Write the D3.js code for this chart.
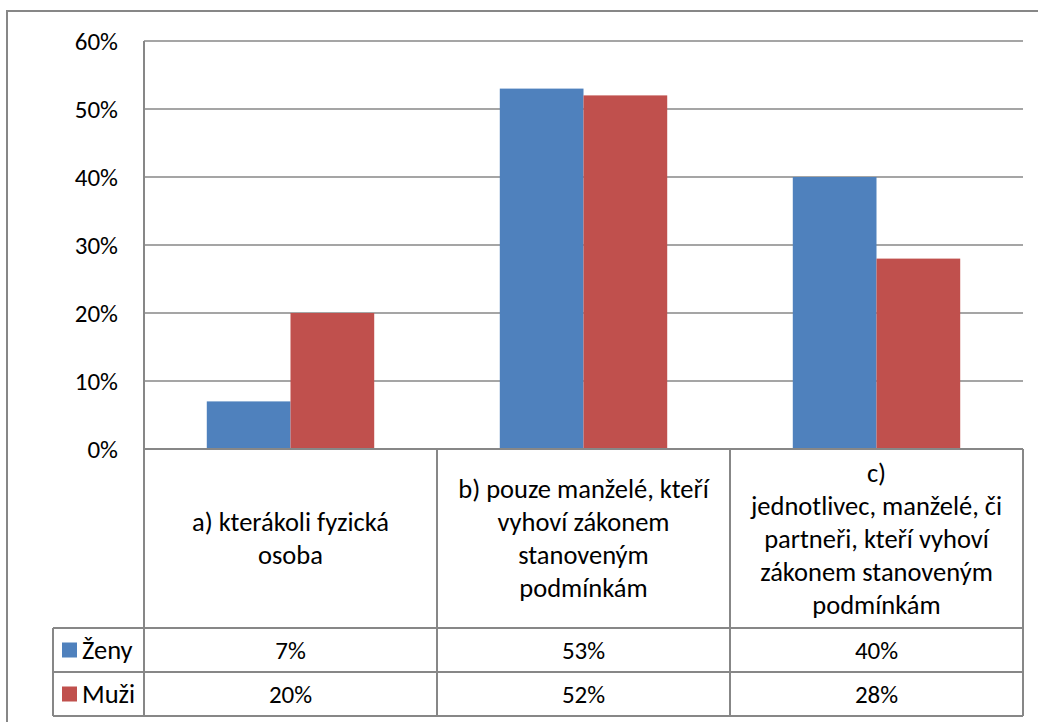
<!DOCTYPE html>
<html>
<head>
<meta charset="utf-8">
<script src="https://d3js.org/d3.v7.min.js"></script>
<style>
  body { margin: 0; background: #fff; }
  svg text { font-family: Carlito, Calibri, Lato, sans-serif; fill: #000; }
</style>
</head>
<body>
<svg class="chart"></svg>
<script>
// data
var categories = ["a", "b", "c"];
var categoryLines = [
  ["a) kterákoli fyzická", "osoba"],
  ["b) pouze manželé, kteří", "vyhoví zákonem", "stanoveným", "podmínkám"],
  ["c)", "jednotlivec, manželé, či", "partneři, kteří vyhoví", "zákonem stanoveným", "podmínkám"]
];
var seriesNames = ["Ženy", "Muži"];
var zeny = [0.07, 0.53, 0.40];
var muzi = [0.20, 0.52, 0.28];
var yTicks = [0, 0.1, 0.2, 0.3, 0.4, 0.5, 0.6];

var seriesValues = [zeny, muzi];
var colors = ["#4F81BD", "#C0504D"];
var gray = "#878787";

var W = 1038, H = 722;
var numSize = 25;    // numbers (ticks, table values)
var textSize = 26.5; // words (category labels, legend)

var svg = d3.select(".chart").attr("width", W).attr("height", H);

// outer chart border
svg.append("rect")
  .attr("x", 7).attr("y", 11)
  .attr("width", W + 10).attr("height", H + 10)
  .attr("fill", "none").attr("stroke", gray).attr("stroke-width", 2);

var plot = { left: 144, right: 1023, top: 41, bottom: 449 };
var tableRows = { labelBottom: 628, row1: 672, row2: 716, legendLeft: 53 };

var x = d3.scaleBand().domain(categories).range([plot.left, plot.right]);
// Excel gap width 150%: two bars take 2/3.5 of category
var inner = d3.scaleBand().domain(seriesNames)
  .range([0, x.bandwidth() * 2 / 3.5]);
var groupOffset = (x.bandwidth() - inner.range()[1]) / 2;

var y = d3.scaleLinear().domain([0, 0.6]).range([plot.bottom, plot.top]);

// gridlines
svg.append("g").selectAll("line")
  .data(yTicks.slice(1))
  .enter().append("line")
  .attr("x1", plot.left).attr("x2", plot.right)
  .attr("y1", function(d) { return y(d); })
  .attr("y2", function(d) { return y(d); })
  .attr("stroke", gray).attr("stroke-width", 1.5);

// y axis labels
var yAxis = d3.axisLeft(y).tickValues(yTicks)
  .tickFormat(d3.format(".0%")).tickSize(0).tickPadding(26);
var yg = svg.append("g")
  .attr("transform", "translate(" + plot.left + ",0)")
  .call(yAxis);
yg.select(".domain").remove();
yg.selectAll("text")
  .style("font-family", "Carlito, Calibri, Lato, sans-serif")
  .attr("font-size", numSize).attr("fill", "#000");

// bars
seriesNames.forEach(function(s, si) {
  svg.append("g").selectAll("rect")
    .data(seriesValues[si])
    .enter().append("rect")
    .attr("x", function(d, i) { return x(categories[i]) + groupOffset + inner(s); })
    .attr("y", function(d) { return y(d); })
    .attr("width", inner.bandwidth())
    .attr("height", function(d) { return y(0) - y(d); })
    .attr("fill", colors[si]);
});

// table lines
var tl = svg.append("g").attr("stroke", gray).attr("stroke-width", 2).attr("fill", "none");
function line(x1, y1, x2, y2) {
  tl.append("line").attr("x1", x1).attr("y1", y1).attr("x2", x2).attr("y2", y2);
}
line(plot.left, plot.top, plot.left, tableRows.row2);           // axis + first column
line(plot.left, plot.bottom, plot.right, plot.bottom);          // zero line
line(tableRows.legendLeft, tableRows.labelBottom, plot.right, tableRows.labelBottom);
line(tableRows.legendLeft, tableRows.row1, plot.right, tableRows.row1);
line(tableRows.legendLeft, tableRows.row2, plot.right, tableRows.row2);
line(tableRows.legendLeft, tableRows.labelBottom, tableRows.legendLeft, tableRows.row2);
categories.forEach(function(c) {
  line(x(c) + x.bandwidth(), plot.bottom, x(c) + x.bandwidth(), tableRows.row2);
});

// category labels
var lineH = 33;
var labelMid = (plot.bottom + tableRows.labelBottom) / 2;
categories.forEach(function(c, i) {
  var lines = categoryLines[i];
  var t = svg.append("text")
    .attr("text-anchor", "middle")
    .attr("font-size", textSize);
  lines.forEach(function(l, j) {
    t.append("tspan")
      .attr("x", x(c) + x.bandwidth() / 2)
      .attr("y", labelMid + (j - (lines.length - 1) / 2) * lineH)
      .attr("dy", "0.35em")
      .text(l);
  });
});

// data table rows
var rowTops = [tableRows.labelBottom, tableRows.row1];
var rowBottoms = [tableRows.row1, tableRows.row2];
seriesNames.forEach(function(s, si) {
  var cy = (rowTops[si] + rowBottoms[si]) / 2;
  svg.append("rect")
    .attr("x", 62).attr("y", cy - 7.5)
    .attr("width", 15).attr("height", 15)
    .attr("fill", colors[si]);
  svg.append("text")
    .attr("x", 82).attr("y", cy).attr("dy", "0.35em")
    .attr("font-size", textSize)
    .text(s);
  svg.append("g").selectAll("text")
    .data(seriesValues[si])
    .enter().append("text")
    .attr("x", function(d, i) { return x(categories[i]) + x.bandwidth() / 2; })
    .attr("y", cy).attr("dy", "0.35em")
    .attr("text-anchor", "middle")
    .attr("font-size", numSize)
    .text(function(d) { return d3.format(".0%")(d); });
});
</script>
</body>
</html>
